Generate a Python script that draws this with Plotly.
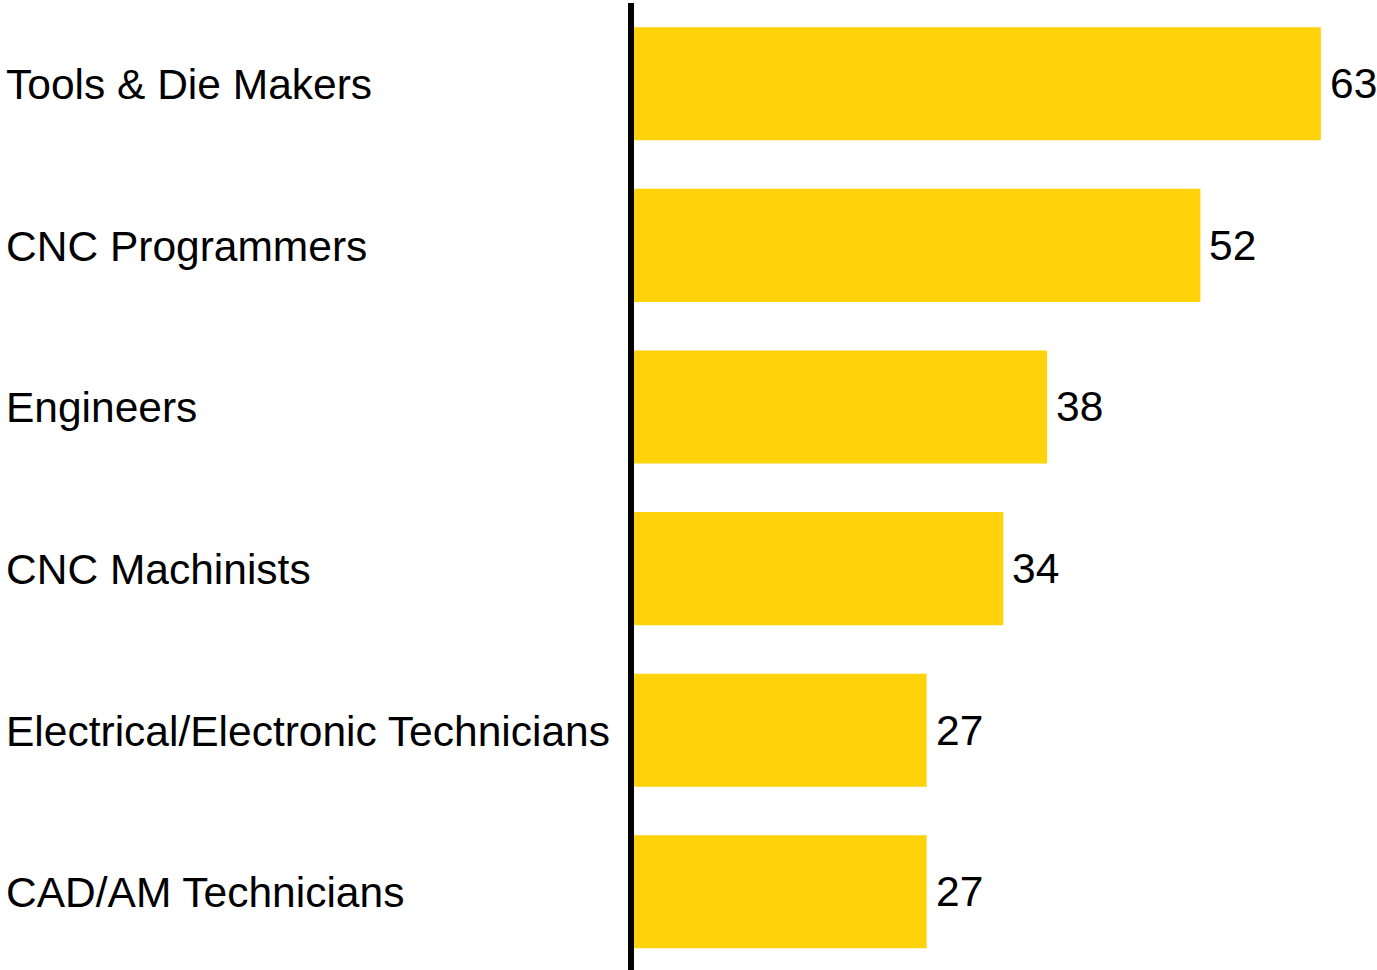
import plotly.graph_objects as go

# Occupations and their counts, top to bottom
occupations = [
    "Tools & Die Makers",
    "CNC Programmers",
    "Engineers",
    "CNC Machinists",
    "Electrical/Electronic Technicians",
    "CAD/AM Technicians",
]
counts = [63, 52, 38, 34, 27, 27]

BAR_COLOR = "#FFD20A"
FONT = "Arial, Liberation Sans, sans-serif"
FONT_SIZE = 42.5

W, H = 1377, 970
LEFT = 631

fig = go.Figure(
    go.Bar(
        x=counts,
        y=occupations,
        orientation="h",
        marker=dict(color=BAR_COLOR, line=dict(width=0)),
        hoverinfo="skip",
    )
)

# Category names, left-aligned at the page edge
for name in occupations:
    fig.add_annotation(
        x=0, xref="paper", y=name, yref="y",
        text=name, showarrow=False,
        xanchor="left", yanchor="middle", xshift=-(LEFT - 4), yshift=-1,
        font=dict(family=FONT, size=FONT_SIZE, color="#000000"),
    )

# Value labels just past the end of each bar
for name, v in zip(occupations, counts):
    fig.add_annotation(
        x=v, xref="x", y=name, yref="y",
        text=str(v), showarrow=False,
        xanchor="left", yanchor="middle", xshift=7,
        font=dict(family=FONT, size=FONT_SIZE, color="#000000"),
    )

# Thick baseline at zero (paper-referenced so it is not clipped)
fig.add_shape(
    type="line", xref="paper", yref="paper",
    x0=0, x1=0, y0=0, y1=1,
    line=dict(color="#000000", width=6), layer="above",
)

fig.update_layout(
    width=W, height=H,
    margin=dict(l=LEFT, r=0, t=3, b=0),
    paper_bgcolor="white", plot_bgcolor="white",
    bargap=0.30,
    showlegend=False,
    xaxis=dict(range=[0, (W - LEFT) / 10.95], visible=False, fixedrange=True),
    yaxis=dict(range=[5.484, -0.5], visible=False, fixedrange=True),
)

fig.write_html("out.html", config={"displayModeBar": False})
